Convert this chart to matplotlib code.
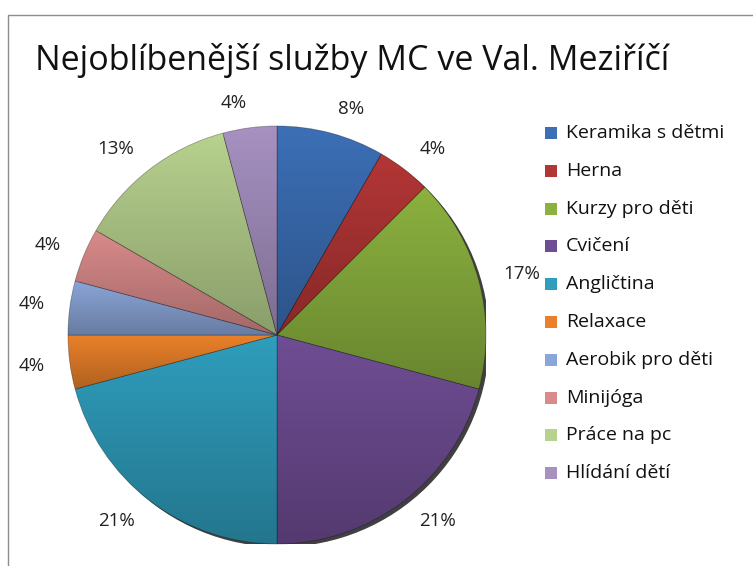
import numpy as np
import matplotlib
matplotlib.use('Agg')
import matplotlib.pyplot as plt
from matplotlib.patches import Circle, Rectangle

plt.rcParams['font.family'] = ['Open Sans', 'DejaVu Sans']

# data (counts of answers, shown as rounded percentages)
title = 'Nejoblíbenější služby MC ve Val. Meziříčí'
categories = ['Keramika s dětmi', 'Herna', 'Kurzy pro děti', 'Cvičení', 'Angličtina',
              'Relaxace', 'Aerobik pro děti', 'Minijóga', 'Práce na pc', 'Hlídání dětí']
counts = [2, 1, 4, 5, 5, 1, 1, 1, 3, 1]
colors = ['#3c6fb6', '#b33636', '#8bb13f', '#6f4d94', '#2f9dbc',
          '#ea812a', '#8aa5d7', '#d98a8a', '#b7d18e', '#a691c1']

W, H = 753, 566
CX, CY, R = 277, 335, 209

total = sum(counts)
pct_labels = ['%d%%' % int(c * 100.0 / total + 0.5) for c in counts]

fig = plt.figure(figsize=(W / 100, H / 100), dpi=100)

# chart area border
fig.add_artist(Rectangle((7.5 / W, -0.1), 2, 1 - 14.5 / H + 0.1, fill=False,
                         edgecolor='#8c8c8c', lw=1, transform=fig.transFigure))

ax = fig.add_axes([(CX - R) / W, (H - CY - R) / H, 2 * R / W, 2 * R / H])

# shadow
ax.add_patch(Circle((0.016, -0.014), 1.0, facecolor='black', alpha=0.75, zorder=0))

wedges, texts = ax.pie(counts, colors=colors, startangle=90, counterclock=False,
                       radius=1, labels=pct_labels, labeldistance=1.12,
                       wedgeprops=dict(edgecolor=(0, 0, 0, 0.3), linewidth=0.6),
                       textprops=dict(fontsize=13.5, color='#222222'))

# each slice gets its own top-to-bottom darkening, like the excel gradient
grad = np.zeros((256, 1, 4))
grad[:, 0, 3] = np.linspace(0.0, 0.25, 256)
for w in wedges:
    w.set_zorder(1)
    bb = w.get_path().get_extents()
    im = ax.imshow(grad, extent=(bb.x0, bb.x1, bb.y0, bb.y1), aspect='auto',
                   zorder=2, origin='upper')
    im.set_clip_path(w)

ax.set_xlim(-1, 1)
ax.set_ylim(-1, 1)
ax.axis('off')

fig.text(35 / W, 1 - 70 / H, title, fontsize=24.5, ha='left', va='baseline', color='#111111')

# legend
for i, (name, col) in enumerate(zip(categories, colors)):
    y = 133 + i * 37.8
    fig.add_artist(Rectangle((545 / W, 1 - (y + 6) / H), 12 / W, 12 / H,
                             facecolor=col, edgecolor='none', transform=fig.transFigure))
    fig.text(566 / W, 1 - y / H, name, fontsize=14, ha='left', va='center', color='#111111')

fig.savefig('out.png', dpi=100)
